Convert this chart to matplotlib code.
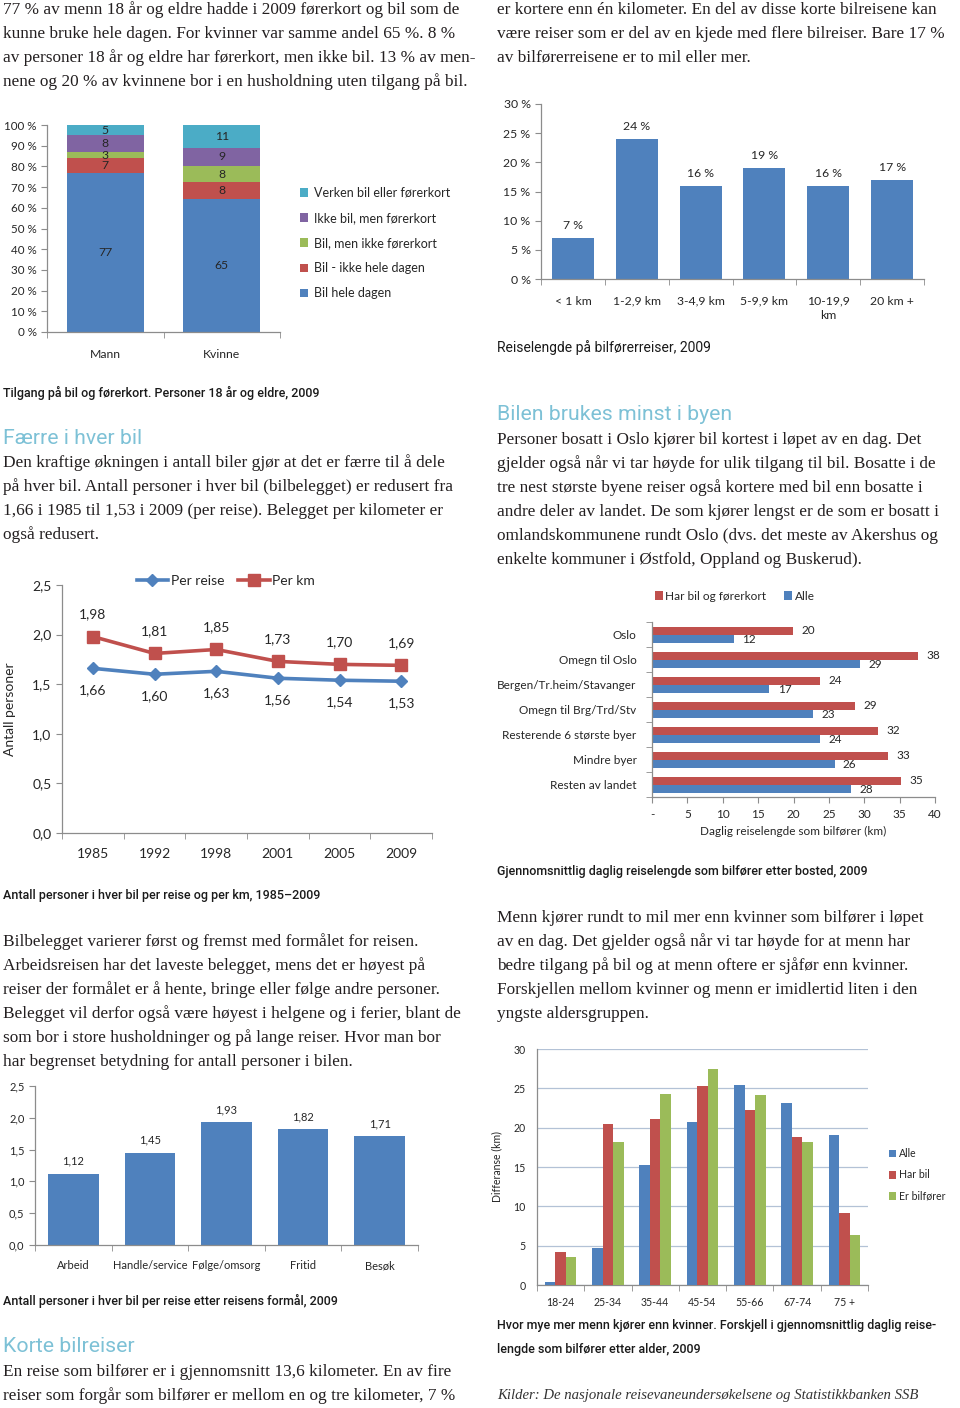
import numpy as np
import matplotlib
matplotlib.use('Agg')
import matplotlib.pyplot as plt

# ---------------- data ----------------
access_groups = ['Mann', 'Kvinne']
access_cats = ['Bil hele dagen', 'Bil - ikke hele dagen', 'Bil, men ikke førerkort',
               'Ikke bil, men førerkort', 'Verken bil eller førerkort']
access_mann = [77, 7, 3, 8, 5]
access_kvinne = [65, 8, 8, 9, 11]

dist_cats = ['< 1 km', '1-2,9 km', '3-4,9 km', '5-9,9 km', '10-19,9\nkm', '20 km +']
dist_share = [7, 24, 16, 19, 16, 17]

occ_years = ['1985', '1992', '1998', '2001', '2005', '2009']
occ_per_reise = [1.66, 1.60, 1.63, 1.56, 1.54, 1.53]
occ_per_km = [1.98, 1.81, 1.85, 1.73, 1.70, 1.69]

bosted_cats = ['Oslo', 'Omegn til Oslo', 'Bergen/Tr.heim/Stavanger', 'Omegn til Brg/Trd/Stv',
               'Resterende 6 største byer', 'Mindre byer', 'Resten av landet']
bosted_harbil = [19.9, 37.6, 23.8, 28.7, 32.0, 33.4, 35.2]
bosted_alle = [11.6, 29.4, 16.6, 22.8, 23.8, 25.8, 28.1]

purpose_cats = ['Arbeid', 'Handle/service', 'Følge/omsorg', 'Fritid', 'Besøk']
purpose_occ = [1.12, 1.45, 1.93, 1.82, 1.71]

age_cats = ['18-24', '25-34', '35-44', '45-54', '55-66', '67-74', '75 +']
age_alle = [0.4, 4.7, 15.3, 20.7, 25.4, 23.1, 19.1]
age_harbil = [4.2, 20.5, 21.1, 25.3, 22.3, 18.8, 9.1]
age_bilforer = [3.6, 18.2, 24.3, 27.4, 24.1, 18.2, 6.4]

# ---------------- style ----------------
W, H = 960, 1408
fig = plt.figure(figsize=(9.6, 14.08), dpi=100)
fig.patch.set_facecolor('white')

SERIF = ['Liberation Serif', 'DejaVu Serif']
CHART = ['Lato', 'DejaVu Sans']
CAP = ['Roboto', 'DejaVu Sans']
HEAD_C = '#7DC1D6'
TXT = '#231F20'
AXC = '#8C8C8C'
LBL = '#262626'
BLUE = '#4F81BD'; RED = '#C0504D'; GREEN = '#9BBB59'; PURPLE = '#8064A2'; CYAN = '#4BACC6'

BODY = 12.4


def fx(x):
    return x / W


def fy(y):
    return 1 - y / H


def add_ax(l, t, r, b):
    return fig.add_axes([l / W, 1 - b / H, (r - l) / W, (b - t) / H])


def para(x, y0, lines, dy=24.0, size=BODY, family=SERIF, color=TXT, **kw):
    for i, ln in enumerate(lines):
        fig.text(fx(x), fy(y0 + i * dy), ln, fontsize=size, family=family, color=color,
                 ha='left', va='center', **kw)


def caption(x, y, s, size=9.0, weight='medium'):
    fig.text(fx(x), fy(y), s, fontsize=size, family=CAP, weight=weight, color='#1a1a1a',
             ha='left', va='center')


def heading(x, y, s):
    fig.text(fx(x), fy(y), s, fontsize=15.3, family=CAP, weight='normal', color=HEAD_C,
             ha='left', va='center')


def style_ax(ax, tick_size):
    for s in ['top', 'right']:
        ax.spines[s].set_visible(False)
    for s in ['left', 'bottom']:
        ax.spines[s].set_color(AXC)
        ax.spines[s].set_linewidth(0.9)
    ax.tick_params(colors=AXC, labelcolor=LBL, labelsize=tick_size, length=4, width=0.8)
    for t in ax.get_xticklabels() + ax.get_yticklabels():
        t.set_family(CHART)


def comma(v, d=2):
    return f"{v:.{d}f}".replace('.', ',')


# ---------------- text blocks ----------------
para(3, 10, ["77 % av menn 18 år og eldre hadde i 2009 førerkort og bil som de",
             "kunne bruke hele dagen. For kvinner var samme andel 65 %. 8 %",
             "av personer 18 år og eldre har førerkort, men ikke bil. 13 % av men-",
             "nene og 20 % av kvinnene bor i en husholdning uten tilgang på bil."])
para(497, 10, ["er kortere enn én kilometer. En del av disse korte bilreisene kan",
               "være reiser som er del av en kjede med flere bilreiser. Bare 17 %",
               "av bilførerreisene er to mil eller mer."])

caption(3, 393, "Tilgang på bil og førerkort. Personer 18 år og eldre, 2009")
heading(3, 438, "Færre i hver bil")
para(3, 463, ["Den kraftige økningen i antall biler gjør at det er færre til å dele",
              "på hver bil. Antall personer i hver bil (bilbelegget) er redusert fra",
              "1,66 i 1985 til 1,53 i 2009 (per reise). Belegget per kilometer er",
              "også redusert."])

heading(497, 415, "Bilen brukes minst i byen")
para(497, 440, ["Personer bosatt i Oslo kjører bil kortest i løpet av en dag. Det",
                "gjelder også når vi tar høyde for ulik tilgang til bil. Bosatte i de",
                "tre nest største byene reiser også kortere med bil enn bosatte i",
                "andre deler av landet. De som kjører lengst er de som er bosatt i",
                "omlandskommunene rundt Oslo (dvs. det meste av Akershus og",
                "enkelte kommuner i Østfold, Oppland og Buskerud)."])

fig.text(fx(497), fy(348), "Reiselengde på bilførerreiser, 2009", fontsize=10.0, family=CAP,
         color='#1a1a1a', ha='left', va='center')

caption(3, 895, "Antall personer i hver bil per reise og per km, 1985–2009")
para(3, 942, ["Bilbelegget varierer først og fremst med formålet for reisen.",
              "Arbeidsreisen har det laveste belegget, mens det er høyest på",
              "reiser der formålet er å hente, bringe eller følge andre personer.",
              "Belegget vil derfor også være høyest i helgene og i ferier, blant de",
              "som bor i store husholdninger og på lange reiser. Hvor man bor",
              "har begrenset betydning for antall personer i bilen."])

caption(497, 871, "Gjennomsnittlig daglig reiselengde som bilfører etter bosted, 2009")
para(497, 918, ["Menn kjører rundt to mil mer enn kvinner som bilfører i løpet",
                "av en dag. Det gjelder også når vi tar høyde for at menn har",
                "bedre tilgang på bil og at menn oftere er sjåfør enn kvinner.",
                "Forskjellen mellom kvinner og menn er imidlertid liten i den",
                "yngste aldersgruppen."])

caption(3, 1301, "Antall personer i hver bil per reise etter reisens formål, 2009")
heading(3, 1347, "Korte bilreiser")
para(3, 1372, ["En reise som bilfører er i gjennomsnitt 13,6 kilometer. En av fire",
               "reiser som forgår som bilfører er mellom en og tre kilometer, 7 %"])

caption(497, 1325, "Hvor mye mer menn kjører enn kvinner. Forskjell i gjennomsnittlig daglig reise-")
caption(497, 1349, "lengde som bilfører etter alder, 2009")
fig.text(fx(497), fy(1396), "Kilder: De nasjonale reisevaneundersøkelsene og Statistikkbanken SSB",
         fontsize=10.6, family=SERIF, style='italic', color='#333333', ha='left', va='center')

# ---------------- chart 1: stacked access ----------------
ax1 = add_ax(47, 125, 280, 332)
colors1 = [BLUE, RED, GREEN, PURPLE, CYAN]
x = np.arange(len(access_groups))
vals = np.array([access_mann, access_kvinne], dtype=float)
shares = vals / vals.sum(axis=1, keepdims=True) * 100
bottom = np.zeros(len(access_groups))
handles = []
for j in range(len(access_cats)):
    b = ax1.bar(x, shares[:, j], 0.66, bottom=bottom, color=colors1[j], label=access_cats[j])
    handles.append(b)
    for i in range(len(access_groups)):
        ax1.text(x[i], bottom[i] + shares[i, j] / 2, f"{int(vals[i, j])}", ha='center',
                 va='center', fontsize=8.8, color=LBL, family=CHART)
    bottom += shares[:, j]
ax1.set_xlim(-0.5, 1.5)
ax1.set_ylim(0, 100)
ax1.set_yticks(np.arange(0, 101, 10))
ax1.set_yticklabels([f"{v} %" for v in range(0, 101, 10)])
ax1.set_xticks(x)
ax1.set_xticklabels(access_groups)
ax1.set_xticks([-0.5, 0.5, 1.5], minor=True)
style_ax(ax1, 8.4)
ax1.tick_params(axis='x', which='major', length=0, pad=12)
ax1.tick_params(axis='x', which='minor', length=4, color=AXC)
for t in ax1.get_xticklabels():
    t.set_fontsize(8.8)
ax1.legend(handles[::-1], access_cats[::-1], loc='center left',
           bbox_to_anchor=(fx(289), fy(243)), bbox_transform=fig.transFigure, frameon=False,
           prop={'family': CHART, 'size': 9.0}, handlelength=0.65, handleheight=0.65,
           handletextpad=0.45, labelspacing=1.05, labelcolor=LBL)

# ---------------- chart 2: distance distribution ----------------
ax2 = add_ax(541, 104, 924, 279)
x = np.arange(len(dist_cats))
ax2.bar(x, dist_share, 0.66, color=BLUE)
for xi, v in zip(x, dist_share):
    ax2.annotate(f"{v} %", (xi, v), xytext=(0, 5), textcoords='offset points', ha='center',
                 va='bottom', fontsize=8.8, color=LBL, family=CHART)
ax2.set_xlim(-0.5, len(dist_cats) - 0.5)
ax2.set_ylim(0, 30)
ax2.set_yticks(np.arange(0, 31, 5))
ax2.set_yticklabels([f"{v} %" for v in range(0, 31, 5)])
ax2.set_xticks(x)
ax2.set_xticklabels(dist_cats, va='top')
ax2.set_xticks(np.arange(-0.5, len(dist_cats), 1), minor=True)
style_ax(ax2, 8.8)
ax2.tick_params(axis='x', which='major', length=0, pad=12)
ax2.tick_params(axis='x', which='minor', length=4, color=AXC)
for t in ax2.get_xticklabels():
    t.set_linespacing(1.4)

# ---------------- chart 3: occupancy lines ----------------
ax3 = add_ax(62, 585, 432, 833)
x = np.arange(len(occ_years))
ax3.plot(x, occ_per_reise, color=BLUE, lw=2.6, marker='D', ms=6.5, label='Per reise')
ax3.plot(x, occ_per_km, color=RED, lw=2.6, marker='s', ms=8, label='Per km')
for xi, v in zip(x, occ_per_km):
    ax3.annotate(comma(v), (xi, v), xytext=(0, 16), textcoords='offset points', ha='center',
                 va='center', fontsize=10, color=LBL, family=CHART)
for xi, v in zip(x, occ_per_reise):
    ax3.annotate(comma(v), (xi, v), xytext=(0, -16), textcoords='offset points', ha='center',
                 va='center', fontsize=10, color=LBL, family=CHART)
ax3.set_xlim(-0.5, len(occ_years) - 0.5)
ax3.set_ylim(0, 2.5)
ax3.set_yticks(np.arange(0, 2.51, 0.5))
ax3.set_yticklabels([comma(v, 1) for v in np.arange(0, 2.51, 0.5)])
ax3.set_xticks(x)
ax3.set_xticklabels(occ_years)
ax3.set_xticks(np.arange(-0.5, len(occ_years), 1), minor=True)
style_ax(ax3, 10)
ax3.tick_params(axis='x', which='major', length=0, pad=11)
ax3.tick_params(axis='x', which='minor', length=4, color=AXC)
ax3.set_ylabel("Antall personer", fontsize=10, family=CHART, color=LBL, labelpad=12)
ax3.legend(loc='center left', bbox_to_anchor=(fx(124), fy(581)), bbox_transform=fig.transFigure,
           ncol=2, frameon=False, prop={'family': CHART, 'size': 10}, handlelength=2.3,
           handletextpad=0.15, columnspacing=1.0, labelcolor=LBL)

# ---------------- chart 4: daily distance by residence ----------------
ax4 = add_ax(652, 622, 935, 797)
y = np.arange(len(bosted_cats))
h = 0.32
ax4.barh(y - h / 2, bosted_harbil, h, color=RED, label='Har bil og førerkort')
ax4.barh(y + h / 2, bosted_alle, h, color=BLUE, label='Alle')
for yi, v in zip(y, bosted_harbil):
    ax4.annotate(f"{v:.0f}", (v, yi - h / 2), xytext=(6, 0), textcoords='offset points',
                 ha='left', va='center', fontsize=8.5, color=LBL, family=CHART)
for yi, v in zip(y, bosted_alle):
    ax4.annotate(f"{v:.0f}", (v, yi + h / 2), xytext=(6, -1), textcoords='offset points',
                 ha='left', va='center', fontsize=8.5, color=LBL, family=CHART)
ax4.set_ylim(len(bosted_cats) - 0.5, -0.5)
ax4.set_xlim(0, 40)
ax4.set_xticks(np.arange(0, 41, 5))
ax4.set_xticklabels(['-'] + [str(v) for v in range(5, 41, 5)])
ax4.set_yticks(y)
ax4.set_yticklabels(bosted_cats)
ax4.set_yticks(np.arange(-0.5, len(bosted_cats), 1), minor=True)
style_ax(ax4, 8.5)
ax4.tick_params(axis='y', which='major', length=0, pad=11)
ax4.tick_params(axis='y', which='minor', length=4, color=AXC)
ax4.tick_params(axis='x', pad=5)
ax4.set_xlabel("Daglig reiselengde som bilfører (km)", fontsize=8.5, family=CHART, color=LBL,
               labelpad=4)
ax4.legend(loc='center left', bbox_to_anchor=(fx(644), fy(596)), bbox_transform=fig.transFigure,
           ncol=2, frameon=False, prop={'family': CHART, 'size': 8.5}, handlelength=0.7,
           handleheight=0.7, handletextpad=0.2, columnspacing=1.5, labelcolor=LBL)

# ---------------- chart 5: occupancy by purpose ----------------
ax5 = add_ax(35, 1086, 418, 1245)
x = np.arange(len(purpose_cats))
ax5.bar(x, purpose_occ, 0.66, color=BLUE)
for xi, v in zip(x, purpose_occ):
    ax5.annotate(comma(v), (xi, v), xytext=(0, 5), textcoords='offset points', ha='center',
                 va='bottom', fontsize=8, color=LBL, family=CHART)
ax5.set_xlim(-0.5, len(purpose_cats) - 0.5)
ax5.set_ylim(0, 2.5)
ax5.set_yticks(np.arange(0, 2.51, 0.5))
ax5.set_yticklabels([comma(v, 1) for v in np.arange(0, 2.51, 0.5)])
ax5.set_xticks(x)
ax5.set_xticklabels(purpose_cats)
ax5.set_xticks(np.arange(-0.5, len(purpose_cats), 1), minor=True)
style_ax(ax5, 8)
ax5.tick_params(axis='x', which='major', length=0, pad=11)
ax5.tick_params(axis='x', which='minor', length=4, color=AXC)

# ---------------- chart 6: difference by age ----------------
ax6 = add_ax(537, 1049, 868, 1285)
x = np.arange(len(age_cats))
w = 0.222
ax6.bar(x - w, age_alle, w, color=BLUE, label='Alle', zorder=3)
ax6.bar(x, age_harbil, w, color=RED, label='Har bil', zorder=3)
ax6.bar(x + w, age_bilforer, w, color=GREEN, label='Er bilfører', zorder=3)
ax6.set_xlim(-0.5, len(age_cats) - 0.5)
ax6.set_ylim(0, 30)
ax6.set_yticks(np.arange(0, 31, 5))
ax6.set_xticks(x)
ax6.set_xticklabels(age_cats)
ax6.set_xticks(np.arange(-0.5, len(age_cats), 1), minor=True)
style_ax(ax6, 7.6)
ax6.yaxis.grid(True, color='#B3C2D6', lw=0.9, zorder=0)
ax6.tick_params(axis='y', length=0, pad=8)
ax6.tick_params(axis='x', which='major', length=0, pad=9)
ax6.tick_params(axis='x', which='minor', length=4, color=AXC)
ax6.set_ylabel("Differanse (km)", fontsize=7.6, family=CHART, color=LBL, labelpad=8)
ax6.legend(loc='center left', bbox_to_anchor=(fx(879), fy(1175)), bbox_transform=fig.transFigure,
           frameon=False, prop={'family': CHART, 'size': 7.6}, handlelength=0.7,
           handleheight=0.7, handletextpad=0.25, labelspacing=0.95, labelcolor=LBL)

fig.savefig('out.png', dpi=100, facecolor='white')
